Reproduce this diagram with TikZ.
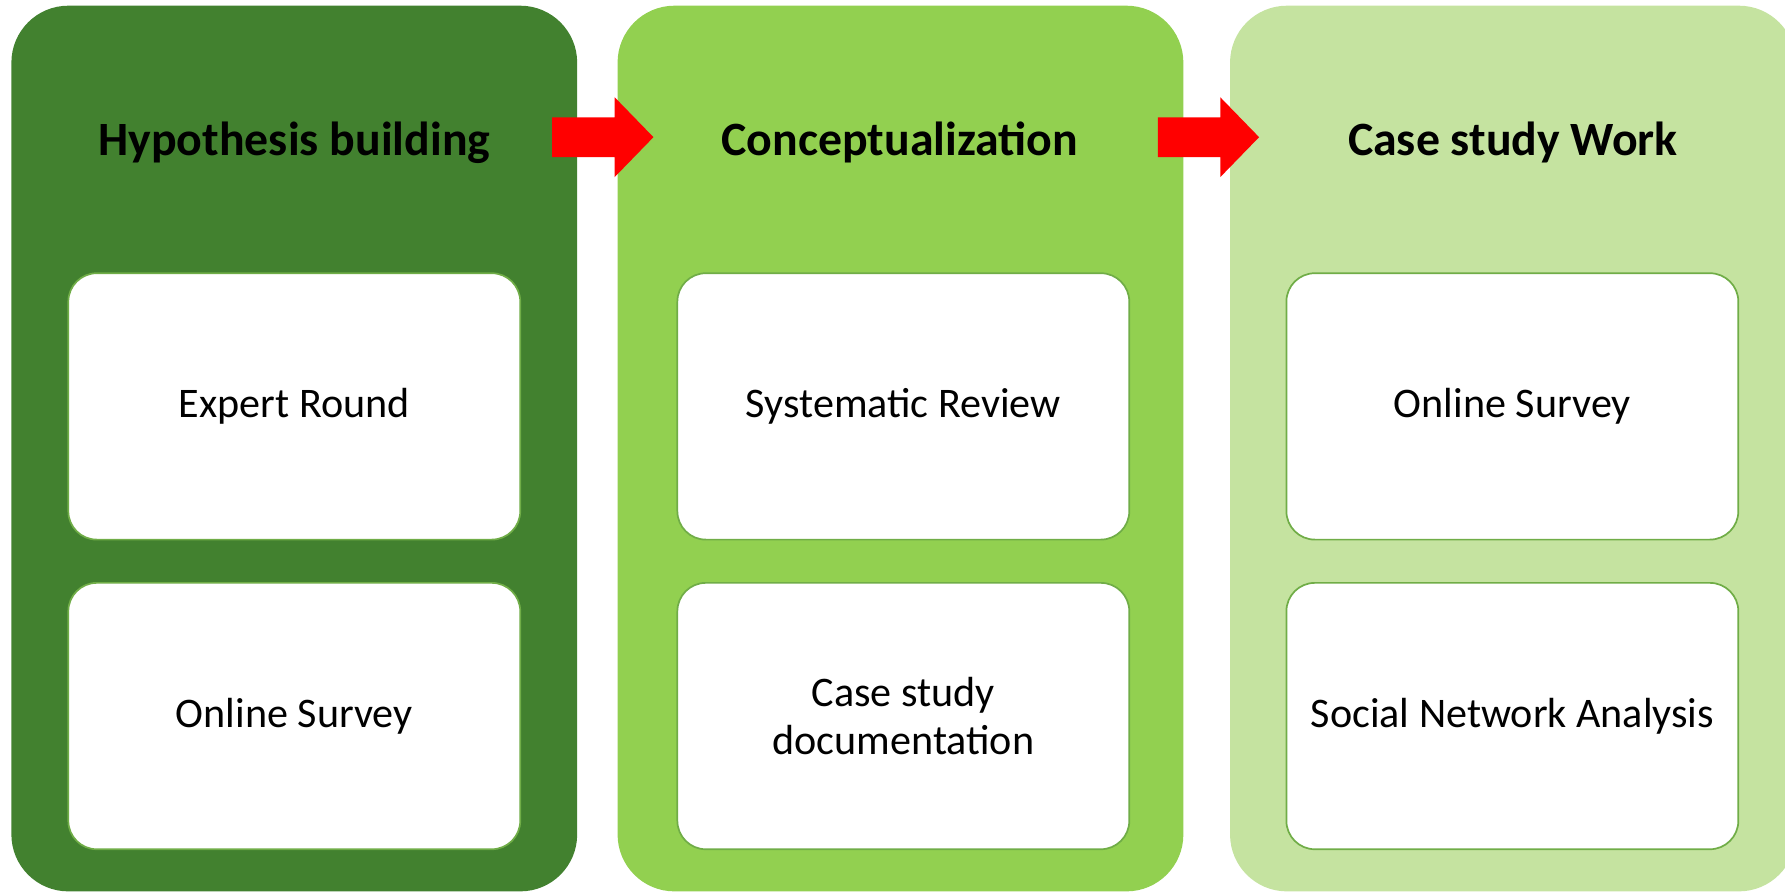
\documentclass[tikz,border=0pt]{standalone}
\usepackage{fontspec}
\setmainfont{Carlito}
\definecolor{pdark}{HTML}{42812F}
\definecolor{pmid}{HTML}{92D050}
\definecolor{plight}{HTML}{C5E3A0}
\definecolor{boxline}{HTML}{70AD47}
\definecolor{arrred}{HTML}{FF0000}
\tikzset{
  panel/.style={rectangle, rounded corners=50pt, minimum width=497pt, minimum height=778pt, inner sep=0pt, draw=none},
  inbox/.style={rectangle, rounded corners=25pt, fill=white, draw=boxline, line width=1.5pt, minimum width=397pt, minimum height=234pt, inner sep=0pt, align=center, font=\fontsize{37}{42}\selectfont},
  ttl/.style={font=\fontsize{42}{50}\selectfont\bfseries, inner sep=0pt},
  blockarrow/.style={fill=arrred, draw=none}
}
\begin{document}
\begin{tikzpicture}[x=1pt,y=-1pt]
\useasboundingbox (0,0) rectangle (1568,784.4);
\clip (0,0) rectangle (1568,784.4);
\node[panel, fill=pdark] (p1) at (258.5,394) {};
\node[panel, fill=pmid] (p2) at (791,394) {};
\node[panel, fill=plight] (p3) at (1329,394) {};
\node[ttl] (t1) at (258.5,125) {Hypothesis building};
\node[ttl] (t2) at (790.5,125) {Conceptualization};
\node[ttl] (t3) at (1329,125) {Case study Work};
\node[inbox] (b11) at (258.5,357) {Expert Round};
\node[inbox] (b12) at (258.5,629) {Online Survey};
\node[inbox] (b21) at (793.5,357) {Systematic Review};
\node[inbox] (b22) at (793.5,629) {Case study\\documentation};
\node[inbox] (b31) at (1328.5,357) {Online Survey};
\node[inbox] (b32) at (1328.5,629) {Social Network Analysis};
\coordinate (a1) at (485,120.5);
\coordinate (a2) at (1017,120.5);
\foreach \a in {a1,a2}{
  \fill[blockarrow] (\a) ++(0,-17.5) -- ++(55,0) -- ++(0,-17.5) -- ++(34,35) -- ++(-34,35) -- ++(0,-17.5) -- ++(-55,0) -- cycle;
}
\end{tikzpicture}
\end{document}
